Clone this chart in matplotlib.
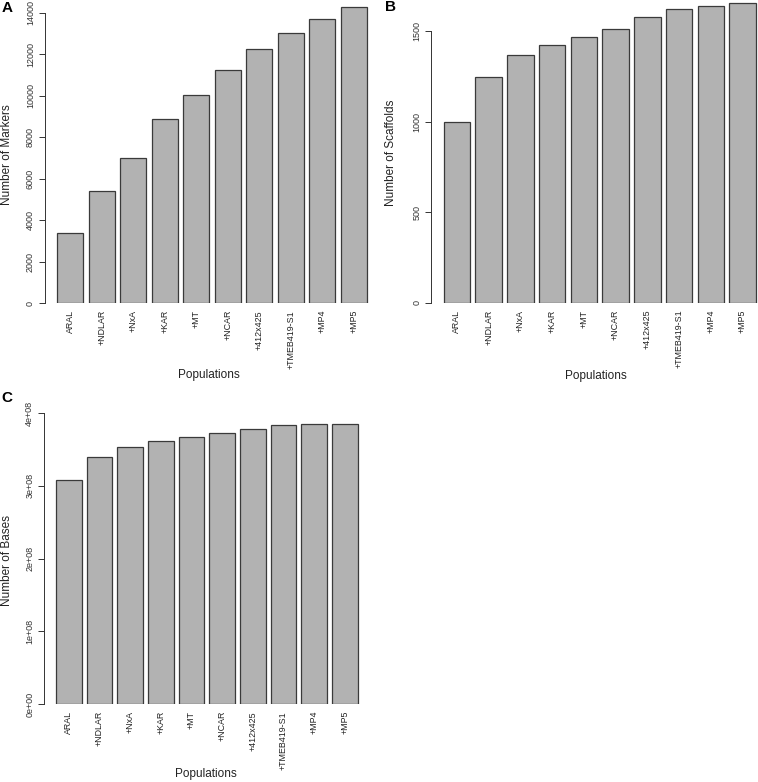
import numpy as np
import matplotlib
matplotlib.use("Agg")
import matplotlib.pyplot as plt

# data
populations = ["ARAL", "+NDLAR", "+NxA", "+KAR", "+MT", "+NCAR",
               "+412x425", "+TMEB419-S1", "+MP4", "+MP5"]
markers = [3400, 5400, 7020, 8860, 10060, 11240, 12240, 13030, 13720, 14290]
scaffolds = [1000, 1244, 1366, 1424, 1465, 1513, 1580, 1619, 1638, 1653]
bases = [3.075e8, 3.395e8, 3.537e8, 3.615e8, 3.670e8, 3.730e8,
         3.785e8, 3.830e8, 3.844e8, 3.853e8]

markers_ticks = [0, 2000, 4000, 6000, 8000, 10000, 12000, 14000]
scaffolds_ticks = [0, 500, 1000, 1500]
bases_ticks = [0, 1e8, 2e8, 3e8, 4e8]
bases_tick_labels = ["0e+00", "1e+08", "2e+08", "3e+08", "4e+08"]

plt.rcParams['font.family'] = ['Liberation Sans', 'DejaVu Sans']

W, H = 758, 782
fig = plt.figure(figsize=(W / 100, H / 100), dpi=100)


def px_box(left, top, right, bottom):
	return [left / W, 1 - bottom / H, (right - left) / W, (bottom - top) / H]


def px_text(x, y, s, **kw):
	fig.text(x / W, 1 - y / H, s, ha="center", va="center", **kw)


def barpanel(box, values, ticks, tick_labels=None):
	ax = fig.add_axes(box)
	x = 0.7 + 1.2 * np.arange(len(values))
	ax.bar(x, values, width=1.0, color="#b2b2b2", edgecolor="#3a3a3a", linewidth=0.9)
	vmax = max(values)
	# bottom of the box sits on zero, top keeps R's 4% headroom
	ax.set_ylim(0, 1.04 * vmax)
	ax.set_xlim(0.2 - 0.472, 12.0 + 0.472)
	for s in ["top", "right", "bottom"]:
		ax.spines[s].set_visible(False)
	ax.spines["left"].set_bounds(ticks[0], ticks[-1])
	ax.spines["left"].set_linewidth(0.7)
	ax.spines["left"].set_color("#333333")
	ax.set_yticks(ticks)
	if tick_labels is None:
		tick_labels = [str(int(t)) for t in ticks]
	ax.set_yticklabels(tick_labels, rotation=90, va="center", fontsize=6.5, color="#333333")
	ax.tick_params(axis="y", length=4, width=0.7, color="#333333", pad=3)
	ax.set_xticks(x)
	ax.set_xticklabels(populations, rotation=90, fontsize=6.4, color="#222222")
	ax.tick_params(axis="x", length=0, pad=5)
	ax.patch.set_alpha(0)
	return ax


barpanel(px_box(44.6, -5.0, 379.4, 303.0), markers, markers_ticks)
barpanel(px_box(431.2, -8.7, 768.2, 302.7), scaffolds, scaffolds_ticks)
barpanel(px_box(43.9, 412.5, 369.8, 704.0), bases, bases_ticks, bases_tick_labels)

# axis titles
px_text(7, 155, "Number of Markers", rotation=90, fontsize=8.5, color="#222222")
px_text(209, 375, "Populations", fontsize=8.5, color="#222222")
px_text(391, 153, "Number of Scaffolds", rotation=90, fontsize=8.5, color="#222222")
px_text(596, 376, "Populations", fontsize=8.5, color="#222222")
px_text(7, 560, "Number of Bases", rotation=90, fontsize=8.5, color="#222222")
px_text(206, 774, "Populations", fontsize=8.5, color="#222222")

# panel letters
px_text(7, 8, "A", fontsize=11, fontweight="bold")
px_text(391, 7, "B", fontsize=11, fontweight="bold")
px_text(7, 398, "C", fontsize=11, fontweight="bold")

fig.savefig("out.png", dpi=100)
